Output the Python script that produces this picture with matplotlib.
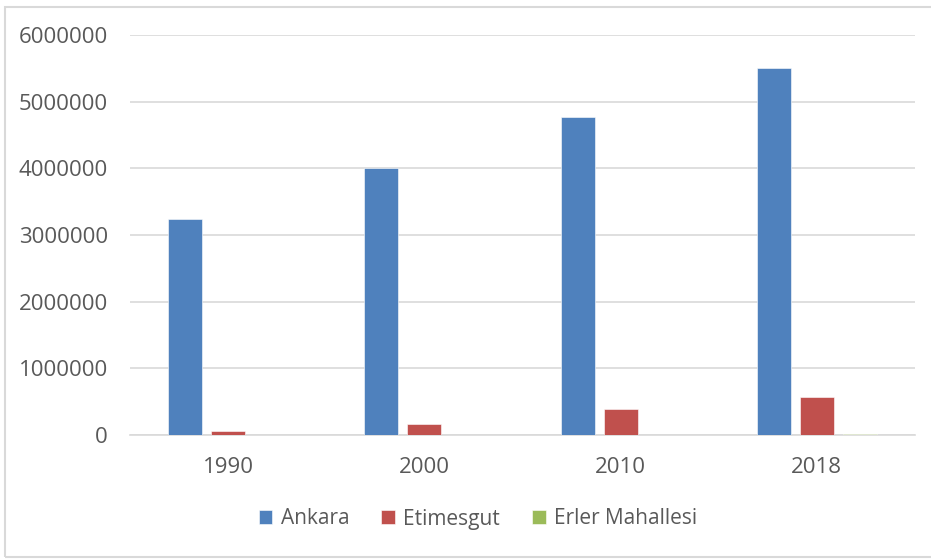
import matplotlib
matplotlib.use("Agg")
import matplotlib.pyplot as plt
from matplotlib.patches import Rectangle
import numpy as np

years = ["1990", "2000", "2010", "2018"]
ankara = [3236000, 4007000, 4771000, 5504000]
etimesgut = [66000, 171000, 386000, 571000]
erler = [1500, 3000, 6000, 9000]
series_names = ["Ankara", "Etimesgut", "Erler Mahallesi"]
colors = ["#4F81BD", "#C0504D", "#9BBB59"]
yticks = [0, 1000000, 2000000, 3000000, 4000000, 5000000, 6000000]

plt.rcParams['font.family'] = ['Open Sans', 'DejaVu Sans']
W, H = 931, 559
fig = plt.figure(figsize=(W / 100, H / 100), dpi=100)
fig.patch.set_facecolor("white")

# outer chart border
fig.patches.append(Rectangle((5 / W, 2 / H), 1.2, (557 - 6) / H - 0.001,
                             transform=fig.transFigure, fill=False,
                             edgecolor="#d9d9d9", linewidth=1.5))

ax = fig.add_axes([130 / W, (H - 435) / H, 785 / W, 400 / H])
x = np.arange(len(years))
bw = 0.173
step = 0.219
for i, (vals, c, name) in enumerate(zip([ankara, etimesgut, erler], colors, series_names)):
    ax.bar(x + (i - 1) * step, vals, width=bw, color=c, label=name,
           edgecolor="white", linewidth=0.4, zorder=3)

ax.set_xlim(-0.5, len(years) - 0.5)
ax.set_ylim(0, 6000000)
ax.set_yticks(yticks)
ax.set_yticklabels([str(v) for v in yticks])
ax.set_xticks(x)
ax.set_xticklabels(years)
ax.tick_params(axis="both", length=0, labelsize=16, labelcolor="#595959")
ax.tick_params(axis="y", pad=16)
ax.tick_params(axis="x", pad=16)
ax.grid(axis="y", color="#d9d9d9", linewidth=1.2, zorder=0)
for s in ["top", "right", "left"]:
    ax.spines[s].set_visible(False)
ax.spines["bottom"].set_color("#d9d9d9")
ax.spines["bottom"].set_linewidth(1.2)

leg = fig.legend(loc="center", bbox_to_anchor=(478 / W, (H - 519) / H), ncol=3,
                 frameon=False, fontsize=15, handlelength=0.65, handleheight=0.65,
                 handletextpad=0.4, columnspacing=1.55, labelcolor="#595959")

fig.savefig("out.png", dpi=100, facecolor="white")
